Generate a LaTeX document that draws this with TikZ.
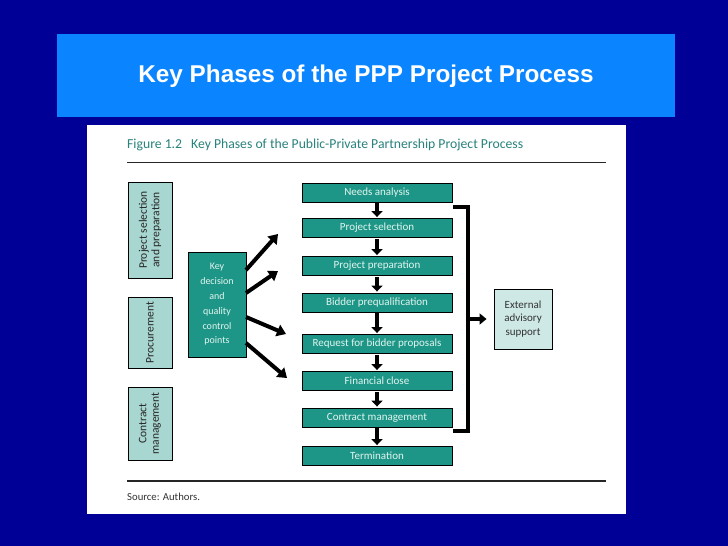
\documentclass[tikz,border=0pt]{standalone}
\usepackage{fontspec}
\setmainfont{Carlito}
\newfontfamily\titlefont{Liberation Sans}
\usetikzlibrary{arrows.meta}
\definecolor{bgblue}{RGB}{0,0,150}
\definecolor{titleblue}{RGB}{10,133,255}
\definecolor{darkteal}{RGB}{30,150,135}
\definecolor{lightteal}{RGB}{168,214,208}
\definecolor{extteal}{RGB}{205,232,229}
\definecolor{capteal}{RGB}{40,130,125}
\definecolor{boxtext}{RGB}{225,245,240}
\tikzset{
  phasebox/.style={draw=black, line width=0.9pt, fill=darkteal, minimum width=150pt, minimum height=19pt, inner sep=0pt, text=boxtext, font=\fontsize{11}{12}\selectfont},
  sidebox/.style={draw=black, line width=0.9pt, fill=lightteal, minimum width=44pt, inner sep=0pt},
  sidetext/.style={rotate=90, align=center, text=black!85, inner sep=0pt, font=\fontsize{11.5}{12.5}\selectfont},
  downarrow/.style={line width=4pt, -{Triangle[length=6pt,width=11pt]}, shorten >=1pt, shorten <=1pt},
  bigarrow/.style={line width=4pt, -{Triangle[length=9pt,width=12pt]}},
}
\begin{document}
\begin{tikzpicture}[x=1pt,y=-1pt]
\fill[bgblue] (0,0) rectangle (728,546);
\useasboundingbox (0,0) rectangle (728,546);
\node[fill=titleblue, minimum width=618pt, minimum height=83pt, inner sep=0pt, anchor=north west] (tbox) at (57,34) {};
\node[text=white, font=\titlefont\bfseries\fontsize{24.3}{28}\selectfont] (title) at (366,76) {Key Phases of the PPP Project Process};
\node[fill=white, minimum width=539pt, minimum height=389pt, inner sep=0pt, anchor=north west] (panel) at (87,125) {};
\node[anchor=west, text=capteal, font=\fontsize{13.7}{14}\selectfont, inner sep=0pt] (cap) at (127,145) {Figure 1.2\hspace{9pt}Key Phases of the Public-Private Partnership Project Process};
\coordinate (l1a) at (127,162);
\coordinate (l1b) at (606,162);
\draw[line width=1pt, black!85] (l1a) -- (l1b);
\coordinate (l2a) at (127,481);
\coordinate (l2b) at (606,481);
\draw[line width=1.6pt, black!85] (l2a) -- (l2b);
\node[anchor=west, text=black!80, font=\fontsize{10.7}{12}\selectfont, inner sep=0pt] (src) at (127,497) {Source: Authors.};
% left boxes
\node[sidebox, minimum height=96pt] (s1) at (150,230) {};
\node[sidetext] (s1t) at (s1.center) {Project selection\\and preparation};
\node[sidebox, minimum height=71pt] (s2) at (150,332.5) {};
\node[sidetext] (s2t) at (s2.center) {Procurement};
\node[sidebox, minimum height=73pt] (s3) at (150,423.5) {};
\node[sidetext] (s3t) at (s3.center) {Contract\\management};
% key box
\node[draw=black, line width=0.9pt, fill=darkteal, minimum width=58pt, minimum height=105pt, inner sep=0pt, text=boxtext, align=center, font=\fontsize{10}{14.8}\selectfont] (key) at (217,304.5) {Key\\decision\\and\\quality\\control\\points};
\coordinate (k1) at (246,270);
\coordinate (k2) at (246,293);
\coordinate (k3) at (246,317);
\coordinate (k4) at (246,343);
\coordinate (t1) at (278,234);
\coordinate (t2) at (278,271);
\coordinate (t3) at (286,334);
\coordinate (t4) at (287,378);
\draw[bigarrow] (k1) -- (t1);
\draw[bigarrow] (k2) -- (t2);
\draw[bigarrow] (k3) -- (t3);
\draw[bigarrow] (k4) -- (t4);
% center phases
\node[phasebox] (p1) at (377,192.5) {Needs analysis};
\node[phasebox] (p2) at (377,228) {Project selection};
\node[phasebox] (p3) at (377,266) {Project preparation};
\node[phasebox] (p4) at (377,302.5) {Bidder prequalification};
\node[phasebox] (p5) at (377,344) {Request for bidder proposals};
\node[phasebox] (p6) at (377,381) {Financial close};
\node[phasebox] (p7) at (377,417.5) {Contract management};
\node[phasebox] (p8) at (377,456) {Termination};
\foreach \a/\b in {p1/p2,p2/p3,p3/p4,p4/p5,p5/p6,p6/p7,p7/p8}
  \draw[downarrow] (\a.south) -- (\b.north);
% bracket
\coordinate (bt) at (453,207);
\coordinate (btr) at (468,207);
\coordinate (bbr) at (468,431);
\coordinate (bb) at (453,431);
\draw[line width=4pt, line join=miter] (bt) -- (btr) -- (bbr) -- (bb);
\coordinate (bm) at (470,319);
\node[draw=black, line width=0.9pt, fill=extteal, minimum width=58pt, minimum height=60pt, inner sep=0pt, align=center, text=black!80, font=\fontsize{11}{13.5}\selectfont] (ext) at (523,319) {External\\advisory\\support};
\draw[line width=4pt, -{Triangle[length=7pt,width=11pt]}, shorten >=7pt] (bm) -- (ext.west);
\end{tikzpicture}
\end{document}
